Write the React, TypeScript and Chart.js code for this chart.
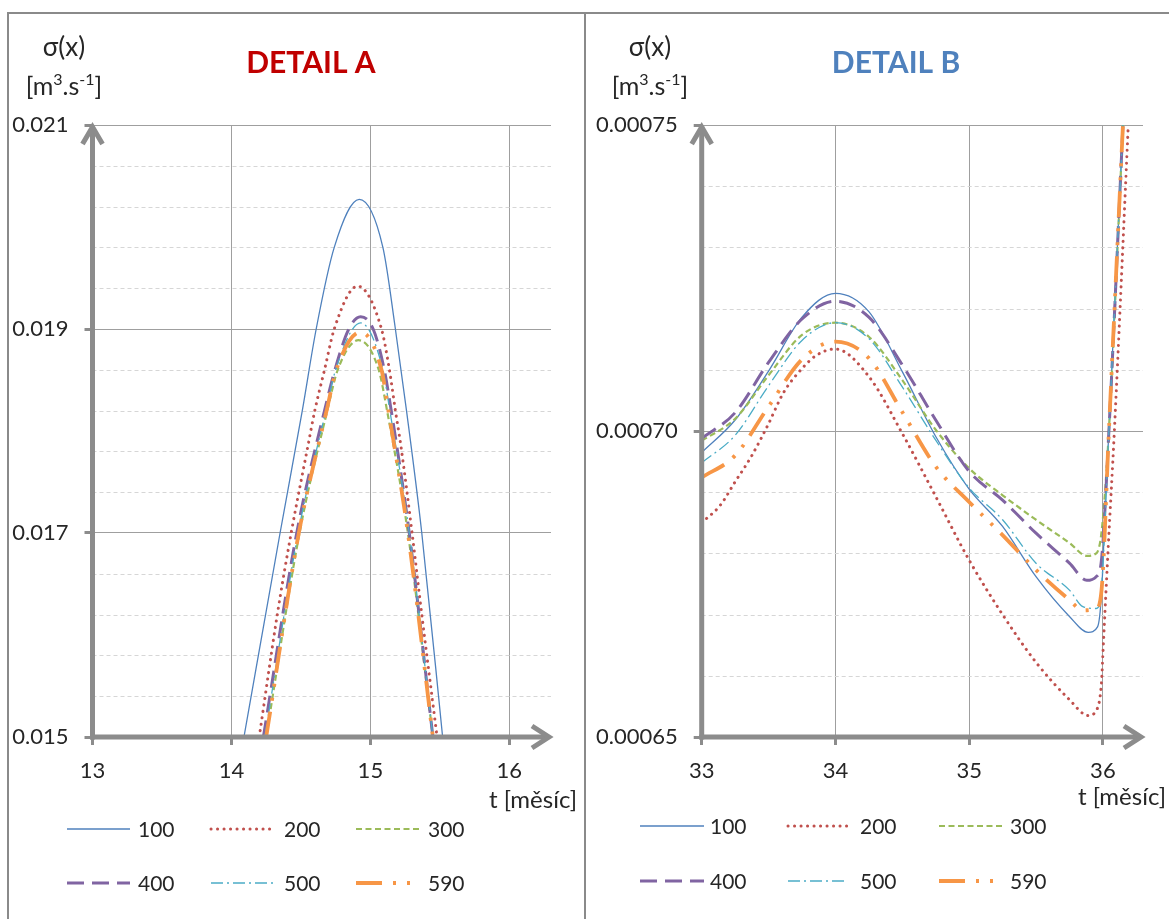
import React, { useEffect, useRef } from "react";
import { Chart, registerables } from "chart.js";

Chart.register(...registerables);

// Series names (shared by both panels)
const SERIES_NAMES = ["100", "200", "300", "400", "500", "590"];

// ---------- DETAIL A : t [month] / sigma(x) [m3/s] ----------
const A_X_TICKS = [13, 14, 15, 16];
const A_Y_TICKS = [0.015, 0.017, 0.019, 0.021];
const A_Y_MINOR = [0.0154, 0.0158, 0.0162, 0.0166, 0.0174, 0.0178, 0.0182, 0.0186, 0.0194, 0.0198, 0.0202, 0.0206];

const A_T_100 = [14.09, 14.35, 14.51, 14.61, 14.74, 14.92, 15.09, 15.18, 15.26, 15.37, 15.52];
const A_V_100 = [0.015, 0.017, 0.0182, 0.019, 0.0198, 0.02027, 0.0198, 0.019, 0.0182, 0.017, 0.015];

const A_T_200 = [14.2, 14.33, 14.43, 14.55, 14.6, 14.67, 14.74, 14.908, 15.08, 15.137, 15.18, 15.22, 15.3, 15.37, 15.48];
const A_V_200 = [0.015, 0.0162, 0.017, 0.01785, 0.0182, 0.0186, 0.019, 0.01942, 0.019, 0.0186, 0.0182, 0.01785, 0.017, 0.0162, 0.015];

const A_T_300 = [14.25, 14.49, 14.69, 14.765, 14.915, 15.06, 15.12, 15.27, 15.45];
const A_V_300 = [0.015, 0.017, 0.0182, 0.0186, 0.01889, 0.0186, 0.0182, 0.017, 0.015];

const A_T_400 = [14.23, 14.47, 14.67, 14.745, 14.845, 14.93, 15.02, 15.1, 15.15, 15.28, 15.45];
const A_V_400 = [0.015, 0.017, 0.0182, 0.0186, 0.019, 0.01912, 0.019, 0.0186, 0.0182, 0.017, 0.015];

const A_T_500 = [14.24, 14.48, 14.68, 14.75, 14.93, 15.09, 15.14, 15.28, 15.45];
const A_V_500 = [0.015, 0.017, 0.0182, 0.0186, 0.01906, 0.0186, 0.0182, 0.017, 0.015];

const A_T_590 = [14.25, 14.485, 14.685, 14.755, 14.93, 15.08, 15.13, 15.27, 15.45];
const A_V_590 = [0.015, 0.017, 0.0182, 0.0186, 0.01897, 0.0186, 0.0182, 0.017, 0.015];

// ---------- DETAIL B ----------
const B_X_TICKS = [33, 34, 35, 36];
const B_Y_TICKS = [0.00065, 0.0007, 0.00075];
const B_Y_MINOR = [0.00066, 0.00067, 0.00068, 0.00069, 0.00071, 0.00072, 0.00073, 0.00074];

const B_T_100 = [33, 33.25, 33.5, 33.75, 34, 34.25, 34.5, 34.75, 35, 35.25, 35.5, 35.75, 35.89, 35.96, 35.99, 36.02, 36.045, 36.15];
const B_V_100 = [0.0006965, 0.0007018, 0.0007098, 0.0007186, 0.0007225, 0.0007195, 0.0007097, 0.0006991, 0.0006905, 0.0006844, 0.0006762, 0.0006697, 0.0006671, 0.000668, 0.0006735, 0.000689, 0.0007, 0.00075];

const B_T_200 = [33, 33.14, 33.25, 33.37, 33.5, 33.61, 33.75, 33.86, 34, 34.25, 34.5, 34.75, 35, 35.25, 35.5, 35.75, 35.89, 35.95, 35.99, 36.0, 36.04, 36.086, 36.19];
const B_V_200 = [0.000685, 0.0006879, 0.0006917, 0.0006958, 0.0007012, 0.0007062, 0.0007102, 0.0007124, 0.0007134, 0.0007089, 0.0006996, 0.0006893, 0.0006789, 0.00067, 0.0006622, 0.0006561, 0.0006535, 0.0006543, 0.000659, 0.0006635, 0.000681, 0.0007, 0.00075];

const B_T_300 = [33, 33.25, 33.5, 33.75, 34, 34.25, 34.5, 34.75, 35, 35.25, 35.5, 35.75, 35.88, 35.95, 35.99, 36.045, 36.15];
const B_V_300 = [0.0006984, 0.000702, 0.0007091, 0.0007157, 0.0007177, 0.0007154, 0.0007083, 0.0007002, 0.0006939, 0.0006895, 0.0006855, 0.0006817, 0.0006796, 0.00068, 0.0006835, 0.0007, 0.00075];

const B_T_400 = [33, 33.25, 33.5, 33.75, 34, 34.25, 34.5, 34.75, 35, 35.25, 35.5, 35.75, 35.88, 35.95, 35.99, 36.045, 36.15];
const B_V_400 = [0.0006988, 0.000703, 0.0007112, 0.0007183, 0.0007212, 0.0007186, 0.0007108, 0.0007018, 0.0006934, 0.0006887, 0.0006833, 0.0006784, 0.0006756, 0.0006762, 0.000679, 0.0007, 0.00075];

const B_T_500 = [33, 33.25, 33.5, 33.75, 34, 34.25, 34.5, 34.75, 35, 35.25, 35.5, 35.75, 35.85, 35.95, 35.99, 36.045, 36.15];
const B_V_500 = [0.0006948, 0.0006993, 0.0007074, 0.0007148, 0.0007177, 0.0007151, 0.0007072, 0.0006985, 0.0006907, 0.0006855, 0.0006784, 0.000674, 0.0006713, 0.000671, 0.0006746, 0.0007, 0.00075];

const B_T_590 = [33, 33.25, 33.5, 33.75, 34, 34.25, 34.5, 34.75, 35, 35.25, 35.5, 35.75, 35.85, 35.95, 35.99, 36.045, 36.15];
const B_V_590 = [0.0006924, 0.000696, 0.000704, 0.0007117, 0.0007146, 0.0007119, 0.0007031, 0.0006942, 0.0006884, 0.000683, 0.0006773, 0.0006724, 0.0006707, 0.000671, 0.000674, 0.0007, 0.00075];

// ---------- styling ----------
const FONT = "Lato, 'Open Sans', sans-serif";
const TEXT_COLOR = "#262626";
const AXIS_COLOR = "#8c8c8c";
const GRID_COLOR = "#9f9f9f";
const MINOR_COLOR = "#d6d6d6";

const SERIES_STYLE = [
  { color: "#4F81BD", width: 1.3, dash: [], cap: "butt" },
  { color: "#C0504D", width: 3, dash: [0.1, 6.4], cap: "round" },
  { color: "#9BBB59", width: 2.2, dash: [6, 3.5], cap: "butt" },
  { color: "#8064A2", width: 3, dash: [17, 8], cap: "butt" },
  { color: "#4BACC6", width: 1.3, dash: [12, 4, 2, 4], cap: "butt" },
  { color: "#F79646", width: 3.8, dash: [26, 11, 3, 11, 3, 11], cap: "butt" },
];

type PanelDef = {
  width: number;
  height: number;
  chartLeft: number;
  chartRight: number;
  chartTop: number;
  chartBottom: number;
  xMin: number;
  xMax: number;
  xTicks: number[];
  yMin: number;
  yMax: number;
  yTicks: number[];
  yMinor: number[];
  yDecimals: number;
  ts: number[][];
  vs: number[][];
  title: string;
  titleColor: string;
  titleX: number;
  unitX: number;
  axisLabelRight: number;
  axisLabelY: number;
  legendSample: number[][];
  legendText: number[];
  legendRows: number[];
};

const PANEL_A: PanelDef = {
  width: 585,
  height: 919,
  chartLeft: 92.5,
  chartRight: 551,
  chartTop: 125,
  chartBottom: 737,
  xMin: 13,
  xMax: 16.3,
  xTicks: A_X_TICKS,
  yMin: 0.015,
  yMax: 0.021,
  yTicks: A_Y_TICKS,
  yMinor: A_Y_MINOR,
  yDecimals: 3,
  ts: [A_T_100, A_T_200, A_T_300, A_T_400, A_T_500, A_T_590],
  vs: [A_V_100, A_V_200, A_V_300, A_V_400, A_V_500, A_V_590],
  title: "DETAIL A",
  titleColor: "#C00000",
  titleX: 311,
  unitX: 64,
  axisLabelRight: 577,
  axisLabelY: 800,
  legendSample: [[67, 130], [211, 273], [356, 420]],
  legendText: [138, 284, 428],
  legendRows: [829, 883],
};

const PANEL_B: PanelDef = {
  width: 583,
  height: 919,
  chartLeft: 115.7,
  chartRight: 557,
  chartTop: 125,
  chartBottom: 737,
  xMin: 33,
  xMax: 36.3,
  xTicks: B_X_TICKS,
  yMin: 0.00065,
  yMax: 0.00075,
  yTicks: B_Y_TICKS,
  yMinor: B_Y_MINOR,
  yDecimals: 5,
  ts: [B_T_100, B_T_200, B_T_300, B_T_400, B_T_500, B_T_590],
  vs: [B_V_100, B_V_200, B_V_300, B_V_400, B_V_500, B_V_590],
  title: "DETAIL B",
  titleColor: "#4F81BD",
  titleX: 310,
  unitX: 64,
  axisLabelRight: 580,
  axisLabelY: 797,
  legendSample: [[54, 118], [202, 262], [353, 417]],
  legendText: [124, 274, 424],
  legendRows: [826, 881],
};

// Unit label "[m³.s⁻¹]" with real superscripts
function drawUnits(ctx: CanvasRenderingContext2D, cx: number, baseline: number) {
  const big = `25px ${FONT}`;
  const small = `16px ${FONT}`;
  const parts: [string, string, number][] = [
    ["[m", big, 0],
    ["3", small, -10],
    [".s", big, 0],
    ["-1", small, -10],
    ["]", big, 0],
  ];
  let total = 0;
  for (const [s, f] of parts) {
    ctx.font = f;
    total += ctx.measureText(s).width;
  }
  let x = cx - total / 2;
  ctx.textAlign = "left";
  ctx.textBaseline = "alphabetic";
  for (const [s, f, dy] of parts) {
    ctx.font = f;
    ctx.fillText(s, x, baseline + dy);
    x += ctx.measureText(s).width;
  }
}

// Right-aligned text, condensed horizontally so it fits a target width
function fitText(ctx: CanvasRenderingContext2D, text: string, right: number, y: number, size: number, maxW: number) {
  ctx.font = `${size}px ${FONT}`;
  const w = ctx.measureText(text).width;
  const sx = w > maxW ? maxW / w : 1;
  ctx.save();
  ctx.translate(right, y);
  ctx.scale(sx, 1);
  ctx.textAlign = "right";
  ctx.textBaseline = "middle";
  ctx.fillText(text, 0, 0);
  ctx.restore();
}

function decorPlugin(p: PanelDef) {
  return {
    id: "panelDecor",
    beforeDatasetsDraw(chart: any) {
      const { ctx, chartArea: ca, scales } = chart;
      ctx.save();
      ctx.strokeStyle = MINOR_COLOR;
      ctx.lineWidth = 1;
      ctx.setLineDash([4, 3]);
      for (const v of p.yMinor) {
        const y = Math.round(scales.y.getPixelForValue(v)) + 0.5;
        ctx.beginPath();
        ctx.moveTo(ca.left, y);
        ctx.lineTo(ca.right, y);
        ctx.stroke();
      }
      ctx.restore();
    },
    afterDatasetsDraw(chart: any) {
      const { ctx, chartArea: ca } = chart;
      const L = ca.left;
      const B = ca.bottom;
      const T = ca.top;
      const R = ca.right;
      ctx.save();
      ctx.strokeStyle = AXIS_COLOR;
      ctx.lineWidth = 5;
      ctx.lineCap = "butt";
      ctx.lineJoin = "miter";
      // y axis with open arrow head
      ctx.beginPath();
      ctx.moveTo(L, B + 2.5);
      ctx.lineTo(L, T + 1);
      ctx.stroke();
      ctx.beginPath();
      ctx.moveTo(L - 10, T + 19);
      ctx.lineTo(L, T + 2);
      ctx.lineTo(L + 10, T + 19);
      ctx.stroke();
      // x axis with open arrow head
      ctx.beginPath();
      ctx.moveTo(L - 2.5, B);
      ctx.lineTo(R - 2, B);
      ctx.stroke();
      ctx.beginPath();
      ctx.moveTo(R - 19, B - 11);
      ctx.lineTo(R - 2, B);
      ctx.lineTo(R - 19, B + 11);
      ctx.stroke();
      ctx.restore();
    },
    afterDraw(chart: any) {
      const { ctx } = chart;
      ctx.save();
      ctx.fillStyle = TEXT_COLOR;
      // y axis name and unit
      ctx.font = `26px ${FONT}`;
      ctx.textAlign = "center";
      ctx.textBaseline = "middle";
      ctx.fillText("σ(x)", p.unitX, 48);
      drawUnits(ctx, p.unitX, 95);
      // title
      ctx.font = `bold 30px ${FONT}`;
      ctx.fillStyle = p.titleColor;
      ctx.textAlign = "center";
      ctx.textBaseline = "middle";
      ctx.fillText(p.title, p.titleX, 63);
      // x axis name
      ctx.fillStyle = TEXT_COLOR;
      fitText(ctx, "t [měsíc]", p.axisLabelRight, p.axisLabelY, 24, 91);
      // legend
      chart.data.datasets.forEach((ds: any, i: number) => {
        const row = Math.floor(i / 3);
        const col = i % 3;
        const y = p.legendRows[row];
        const [x0, x1] = p.legendSample[col];
        ctx.save();
        ctx.strokeStyle = ds.borderColor;
        ctx.lineWidth = ds.borderWidth;
        ctx.lineCap = ds.borderCapStyle;
        ctx.setLineDash(ds.borderDash);
        ctx.beginPath();
        ctx.moveTo(x0, y);
        ctx.lineTo(x1, y);
        ctx.stroke();
        ctx.restore();
        ctx.fillStyle = TEXT_COLOR;
        ctx.font = `21px ${FONT}`;
        ctx.textAlign = "left";
        ctx.textBaseline = "middle";
        ctx.fillText(ds.label, p.legendText[col], y + 1);
      });
      ctx.restore();
    },
  };
}

function buildConfig(p: PanelDef): any {
  const datasets = SERIES_NAMES.map((name, i) => {
    const st = SERIES_STYLE[i];
    return {
      label: name,
      data: p.ts[i].map((t, j) => ({ x: t, y: p.vs[i][j] })),
      borderColor: st.color,
      borderWidth: st.width,
      borderDash: st.dash,
      borderCapStyle: st.cap,
      borderJoinStyle: "round",
      pointRadius: 0,
      pointHoverRadius: 0,
      fill: false,
      cubicInterpolationMode: "monotone",
      order: SERIES_NAMES.length - i,
    };
  });
  const tickFont = { family: FONT, size: 22 };
  return {
    type: "line",
    data: { datasets },
    options: {
      animation: false,
      responsive: false,
      maintainAspectRatio: false,
      devicePixelRatio: 1,
      events: [],
      layout: {
        padding: { top: p.chartTop, right: p.width - p.chartRight, left: 0, bottom: 0 },
      },
      plugins: { legend: { display: false }, tooltip: { enabled: false }, title: { display: false } },
      scales: {
        x: {
          type: "linear",
          min: p.xMin,
          max: p.xMax,
          afterBuildTicks: (s: any) => {
            s.ticks = p.xTicks.map((v) => ({ value: v }));
          },
          afterFit: (s: any) => {
            s.height = p.height - p.chartBottom;
          },
          ticks: {
            font: tickFont,
            color: TEXT_COLOR,
            padding: 13,
            maxRotation: 0,
            autoSkip: false,
            callback: (v: any) => String(v),
          },
          grid: {
            color: GRID_COLOR,
            lineWidth: 1,
            drawTicks: true,
            tickLength: 8,
            tickWidth: 3,
            tickColor: AXIS_COLOR,
          },
          border: { display: false },
        },
        y: {
          type: "linear",
          min: p.yMin,
          max: p.yMax,
          afterBuildTicks: (s: any) => {
            s.ticks = p.yTicks.map((v) => ({ value: v }));
          },
          afterFit: (s: any) => {
            s.width = p.chartLeft;
          },
          ticks: {
            font: tickFont,
            color: TEXT_COLOR,
            padding: 16,
            autoSkip: false,
            callback: (v: any) => Number(v).toFixed(p.yDecimals),
          },
          grid: {
            color: GRID_COLOR,
            lineWidth: 1,
            drawTicks: true,
            tickLength: 8,
            tickWidth: 3,
            tickColor: AXIS_COLOR,
          },
          border: { display: false },
        },
      },
    },
    plugins: [decorPlugin(p)],
  };
}

export default function App() {
  const leftRef = useRef<HTMLCanvasElement>(null);
  const rightRef = useRef<HTMLCanvasElement>(null);

  useEffect(() => {
    const a = new Chart(leftRef.current as HTMLCanvasElement, buildConfig(PANEL_A));
    const b = new Chart(rightRef.current as HTMLCanvasElement, buildConfig(PANEL_B));
    return () => {
      a.destroy();
      b.destroy();
    };
  }, []);

  const frame = "#8a8a8a";
  return (
    <div
      style={{
        position: "fixed",
        left: 0,
        top: 0,
        width: 1169,
        height: 919,
        background: "#ffffff",
        overflow: "hidden",
      }}
    >
      <canvas
        ref={leftRef}
        width={PANEL_A.width}
        height={PANEL_A.height}
        style={{ position: "absolute", left: 0, top: 0 }}
      />
      <canvas
        ref={rightRef}
        width={PANEL_B.width}
        height={PANEL_B.height}
        style={{ position: "absolute", left: 586, top: 0 }}
      />
      <div style={{ position: "absolute", left: 7, top: 12, width: 1162, height: 2, background: frame }} />
      <div style={{ position: "absolute", left: 7, top: 12, width: 2, height: 907, background: frame }} />
      <div style={{ position: "absolute", left: 584, top: 12, width: 2, height: 907, background: frame }} />
    </div>
  );
}
